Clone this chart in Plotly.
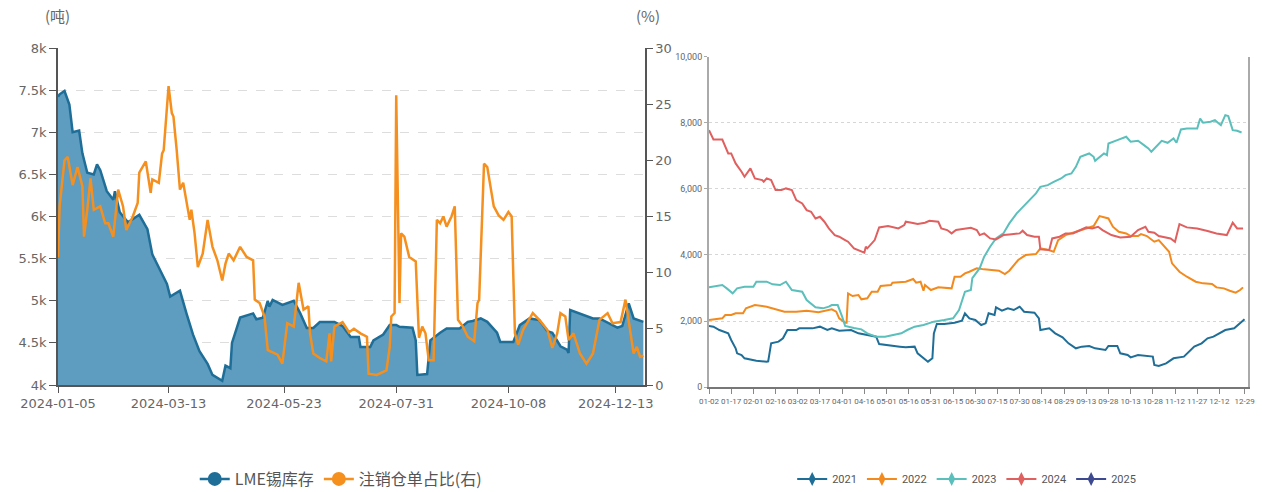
import pandas as pd
import plotly.graph_objects as go

# ---------------- Left chart data (2024) ----------------
lme_base = "2024-01-05"
lme_day = [0, 1, 4, 7, 9, 13, 15, 18, 22, 24, 26, 30, 34, 35, 38, 43, 50, 55, 58, 63, 67, 69, 75, 79, 83, 87, 92, 95,
           101, 103, 106, 107, 112, 120, 122, 126, 129, 130, 132, 138, 145, 149, 153, 157, 161, 170, 175, 180, 185, 186,
           192, 194, 200, 204, 208, 210, 218, 220, 221, 227, 229, 235, 239, 247, 252, 255, 260, 264, 270, 272, 280, 284,
           290, 296, 301, 304, 309, 313, 314, 315, 319, 323, 329, 333, 338, 344, 347, 351, 354, 360]
lme_stock = [7420, 7450, 7490, 7330, 7000, 7020, 6750, 6520, 6500, 6620, 6550, 6300, 6200, 6300, 6050, 5930, 6020, 5850,
             5550, 5350, 5200, 5050, 5120, 4850, 4600, 4400, 4250, 4120, 4050, 4230, 4200, 4500, 4800, 4850, 4780, 4800,
             5000, 4930, 5010, 4950, 5000, 4850, 4677, 4677, 4748, 4748, 4700, 4570, 4570, 4451, 4451, 4530, 4600, 4712,
             4712, 4690, 4680, 4530, 4119, 4130, 4530, 4620, 4670, 4670, 4750, 4760, 4790, 4750, 4620, 4510, 4510, 4710,
             4790, 4770, 4640, 4620, 4460, 4420, 4380, 4890, 4860, 4830, 4790, 4790, 4740, 4680, 4700, 4970, 4790, 4750]

ratio_day = [0, 1, 4, 6, 9, 12, 15, 16, 18, 20, 22, 26, 29, 31, 34, 37, 40, 42, 46, 49, 50, 54, 57, 58, 62, 64, 65, 68,
             70, 71, 73, 75, 77, 79, 81, 82, 84, 86, 89, 92, 95, 98, 101, 103, 105, 108, 112, 116, 120, 121, 124, 127,
             129, 135, 138, 141, 145, 148, 151, 154, 155, 157, 161, 165, 167, 168, 170, 175, 179, 182, 186, 190, 191,
             196, 200, 202, 204, 205, 207, 208, 210, 211, 213, 216, 220, 222, 224, 226, 228, 231, 233, 235, 237, 239,
             242, 244, 246, 249, 252, 256, 258, 259, 262, 264, 268, 271, 274, 277, 279, 281, 283, 286, 292, 296, 301,
             304, 307, 309, 312, 314, 317, 321, 325, 329, 333, 338, 341, 346, 349, 351, 354, 356, 358, 360]
ratio_pct = [11.4, 15.9, 20.0, 20.3, 17.8, 19.4, 17.7, 13.2, 15.6, 18.4, 15.6, 15.9, 14.4, 14.4, 13.2, 17.4, 15.9, 13.8,
             15.0, 16.2, 18.9, 19.9, 17.1, 18.3, 18.0, 20.6, 20.9, 26.6, 24.2, 23.9, 20.9, 17.4, 18.0, 16.5, 14.7, 15.6,
             13.5, 10.5, 11.7, 14.7, 12.3, 11.1, 9.3, 10.8, 11.7, 11.1, 12.3, 11.4, 11.1, 7.6, 7.3, 6.1, 3.1, 2.7, 1.9,
             5.5, 5.2, 9.1, 6.7, 7.0, 4.6, 2.8, 2.4, 2.1, 4.6, 2.1, 5.2, 5.6, 4.7, 5.0, 4.6, 4.3, 1.0, 0.9, 1.2, 1.3,
             3.4, 6.1, 6.4, 25.8, 7.3, 13.5, 13.2, 11.4, 11.0, 4.2, 5.2, 4.6, 2.2, 2.2, 14.7, 14.4, 15.0, 14.1, 15.0,
             15.9, 5.8, 5.2, 4.3, 3.9, 7.3, 7.6, 19.7, 19.4, 15.9, 15.1, 14.7, 15.4, 15.0, 4.6, 3.6, 4.9, 6.4, 5.8, 4.9,
             3.3, 4.6, 6.4, 6.1, 4.0, 4.6, 2.8, 1.9, 2.8, 5.8, 6.4, 5.5, 5.6, 7.6, 5.8, 2.8, 3.4, 2.5, 2.6]

left_xticks = ["2024-01-05", "2024-03-13", "2024-05-23", "2024-07-31", "2024-10-08", "2024-12-13"]
left_yticks = [4000, 4500, 5000, 5500, 6000, 6500, 7000, 7500, 8000]
left_ytext = ["4k", "4.5k", "5k", "5.5k", "6k", "6.5k", "7k", "7.5k", "8k"]
right_yticks = [0, 5, 10, 15, 20, 25, 30]

# ---------------- Right chart data (seasonal, by day from 01-02) ----------------
season_base = "2024-01-02"
d2021 = [0, 3, 7, 13, 15, 18, 19, 22, 24, 32, 39, 40, 42, 47, 50, 53, 59, 61, 70, 75, 80, 83, 88, 92, 96, 101, 107, 113,
         115, 122, 129, 133, 139, 141, 144, 148, 151, 152, 154, 159, 166, 171, 173, 176, 180, 184, 187, 189, 193, 194,
         198, 202, 206, 210, 213, 220, 223, 224, 230, 234, 239, 243, 248, 252, 257, 261, 268, 270, 276, 278, 283, 285,
         290, 296, 300, 301, 304, 309, 314, 321, 328, 333, 337, 341, 345, 349, 355, 359, 362]
v2021 = [1850, 1833, 1732, 1631, 1430, 1178, 1027, 977, 876, 806, 775, 785, 1329, 1380, 1480, 1732, 1732, 1782, 1782,
         1833, 1732, 1782, 1712, 1732, 1732, 1631, 1581, 1531, 1309, 1279, 1229, 1209, 1229, 1027, 926, 775, 876, 1631,
         1913, 1913, 1954, 2014, 2236, 2084, 2034, 1883, 1933, 2236, 2185, 2417, 2316, 2387, 2336, 2437, 2286, 2256,
         2085, 1732, 1782, 1631, 1511, 1329, 1178, 1229, 1249, 1178, 1128, 1250, 1249, 1027, 977, 906, 977, 947, 927,
         675, 644, 725, 876, 926, 1229, 1329, 1480, 1531, 1631, 1732, 1782, 1954, 2054]

d2022 = [0, 9, 11, 15, 18, 23, 25, 31, 39, 46, 51, 59, 66, 74, 78, 83, 86, 88, 92, 93, 94, 97, 101, 103, 107, 110, 114,
         116, 123, 124, 133, 138, 140, 143, 145, 146, 150, 155, 164, 166, 170, 173, 176, 181, 186, 192, 196, 200, 203,
         209, 214, 221, 224, 228, 233, 236, 241, 248, 255, 260, 264, 267, 270, 273, 277, 282, 285, 290, 292, 296, 301,
         304, 308, 311, 313, 318, 323, 329, 334, 340, 343, 348, 352, 356, 359, 361]
v2022 = [2034, 2085, 2185, 2185, 2236, 2236, 2387, 2487, 2437, 2356, 2286, 2286, 2316, 2266, 2316, 2356, 2286, 2085,
         1954, 1954, 2840, 2760, 2790, 2659, 2690, 2890, 2890, 3061, 3092, 3162, 3192, 3273, 3162, 3192, 2920, 3092,
         2940, 3021, 2991, 3343, 3343, 3444, 3494, 3595, 3565, 3545, 3525, 3424, 3525, 3847, 3998, 4028, 4199, 4169,
         4098, 4451, 4602, 4703, 4803, 4874, 5176, 5136, 5105, 4854, 4703, 4652, 4572, 4572, 4632, 4572, 4401, 4451,
         4250, 4098, 3746, 3494, 3343, 3192, 3142, 3122, 3021, 2991, 2920, 2860, 2940, 3021]

d2023 = [0, 9, 12, 16, 19, 24, 30, 32, 39, 43, 48, 52, 56, 63, 66, 72, 77, 81, 83, 87, 90, 92, 98, 103, 107, 113, 119,
         124, 130, 134, 139, 145, 152, 159, 165, 169, 173, 177, 178, 183, 186, 190, 194, 199, 203, 208, 213, 217, 221,
         224, 229, 233, 238, 241, 245, 248, 251, 257, 260, 261, 264, 267, 269, 270, 276, 282, 285, 290, 294, 297, 299,
         303, 306, 310, 314, 316, 319, 323, 330, 332, 334, 339, 342, 346, 349, 351, 354, 357, 360]
v2023 = [3021, 3092, 2990, 2840, 2991, 3041, 3041, 3192, 3192, 3112, 3092, 3192, 2940, 2890, 2638, 2417, 2387, 2437,
         2487, 2487, 2135, 1853, 1792, 1752, 1631, 1531, 1531, 1581, 1631, 1732, 1833, 1883, 1984, 2034, 2085, 2336,
         2890, 2940, 3300, 3600, 3947, 4250, 4501, 4652, 4954, 5257, 5478, 5659, 5861, 6062, 6112, 6213, 6314, 6415,
         6465, 6666, 6968, 7069, 6968, 6848, 6968, 7069, 7019, 7371, 7472, 7573, 7422, 7452, 7321, 7220, 7119, 7321,
         7452, 7392, 7522, 7392, 7794, 7824, 7824, 8126, 7996, 8026, 8076, 7925, 8227, 8197, 7774, 7754, 7703]

d2024 = [0, 3, 9, 10, 13, 15, 18, 22, 24, 28, 31, 36, 37, 39, 42, 45, 49, 52, 56, 59, 63, 66, 69, 72, 75, 78, 81, 85,
         88, 92, 94, 98, 102, 105, 106, 107, 112, 114, 115, 121, 128, 132, 133, 137, 141, 146, 149, 155, 157, 161, 164,
         167, 173, 177, 181, 183, 186, 190, 194, 199, 203, 210, 212, 215, 220, 223, 224, 230, 232, 237, 241, 246, 250,
         255, 259, 263, 266, 272, 278, 285, 290, 295, 297, 301, 304, 312, 315, 318, 323, 330, 337, 343, 350, 354, 357,
         361]
v2024 = [7774, 7490, 7490, 7370, 7069, 7069, 6767, 6515, 6364, 6616, 6314, 6263, 6213, 6314, 6263, 5961, 5961, 6012,
         5961, 5659, 5559, 5357, 5307, 5105, 5156, 5005, 4803, 4602, 4552, 4451, 4401, 4199, 4129, 4068, 4250, 4200,
         4451, 4753, 4834, 4874, 4803, 4904, 5005, 4975, 4934, 4975, 5035, 5005, 4803, 4753, 4652, 4753, 4803, 4823,
         4753, 4602, 4652, 4501, 4471, 4602, 4622, 4652, 4733, 4602, 4552, 4552, 4169, 4149, 4501, 4552, 4652, 4652,
         4733, 4834, 4803, 4854, 4753, 4602, 4531, 4552, 4753, 4854, 4703, 4673, 4572, 4501, 4401, 4934, 4834, 4803,
         4723, 4652, 4602, 4975, 4803, 4803]

season_xticks = ["01-02", "01-17", "02-01", "02-16", "03-02", "03-17", "04-01", "04-16", "05-01", "05-16", "05-31",
                 "06-15", "06-30", "07-15", "07-30", "08-14", "08-29", "09-13", "09-28", "10-13", "10-28", "11-12",
                 "11-27", "12-12", "12-29"]
season_yticks = [0, 2000, 4000, 6000, 8000, 10000]
season_years = ["2021", "2022", "2023", "2024", "2025"]
season_colors = ["#1f6e98", "#f28a1e", "#5bbfbc", "#e0605f", "#3d4a8f"]


def to_dates(base, days):
    return pd.Timestamp(base) + pd.to_timedelta(days, unit="D")


W, H = 1262, 492
GRAY = "#666666"
AXIS = "#555555"
LFONT = dict(family="DejaVu Sans, Verdana, sans-serif", size=13, color=GRAY)
SMALL = "Roboto, Liberation Sans, sans-serif"
RFONT = dict(family=SMALL, size=8, color=GRAY)

fig = go.Figure()

# Left chart
fig.add_trace(go.Scatter(
    x=to_dates(lme_base, lme_day), y=lme_stock, mode="lines", name="LME锡库存",
    line=dict(color="#1f6e98", width=2.5), fill="tozeroy", fillcolor="#5e9cc0",
    xaxis="x", yaxis="y", showlegend=False, hoverinfo="skip"))
fig.add_trace(go.Scatter(
    x=to_dates(lme_base, ratio_day), y=ratio_pct, mode="lines", name="注销仓单占比(右)",
    line=dict(color="#f5901f", width=2.5), xaxis="x", yaxis="y2", showlegend=False, hoverinfo="skip"))
for nm, col in [("LME锡库存", "#1f6e98"), ("注销仓单占比(右)", "#f5901f")]:
    fig.add_trace(go.Scatter(x=[None], y=[None], mode="lines+markers", name=nm,
                             line=dict(color=col, width=2.5), marker=dict(color=col, size=14, symbol="circle"),
                             xaxis="x", yaxis="y", legend="legend"))

# Right chart
season_days = [d2021, d2022, d2023, d2024]
season_vals = [v2021, v2022, v2023, v2024]
for yr, dd, vv, col in zip(season_years[:4], season_days, season_vals, season_colors[:4]):
    fig.add_trace(go.Scatter(x=to_dates(season_base, dd), y=vv, mode="lines", name=yr,
                             line=dict(color=col, width=2), xaxis="x3", yaxis="y3",
                             showlegend=False, hoverinfo="skip"))
for yr, col in zip(season_years, season_colors):
    fig.add_trace(go.Scatter(x=[None], y=[None], mode="lines+markers", name=yr,
                             line=dict(color=col, width=2), marker=dict(color=col, size=10, symbol="diamond-tall"),
                             xaxis="x3", yaxis="y3", legend="legend2"))

fig.update_layout(
    width=W, height=H, margin=dict(l=0, r=0, t=0, b=0, autoexpand=False),
    paper_bgcolor="white", plot_bgcolor="white",
    xaxis=dict(domain=[58 / W, 645 / W], anchor="y", type="date", automargin=False,
               range=["2024-01-05", "2024-12-31"],
               tickvals=left_xticks, ticktext=left_xticks, tickangle=0,
               showline=True, linecolor=AXIS, linewidth=1.5, ticks="outside", ticklen=6,
               tickcolor=AXIS, showgrid=False, tickfont=LFONT),
    yaxis=dict(domain=[1 - 385 / H, 1 - 48 / H], anchor="x", range=[4000, 8000], automargin=False,
               tickvals=left_yticks, ticktext=left_ytext,
               showline=True, linecolor=AXIS, linewidth=1.5, ticks="outside", ticklen=7, tickcolor=AXIS,
               showgrid=True, gridcolor="#dddddd", griddash="dash", gridwidth=1, zeroline=False,
               tickfont=LFONT),
    yaxis2=dict(overlaying="y", side="right", anchor="x", range=[0, 30], tickvals=right_yticks, automargin=False,
                showline=True, linecolor=AXIS, linewidth=1.5, ticks="outside", ticklen=6, tickcolor=AXIS,
                showgrid=False, zeroline=False, tickfont=LFONT),
    xaxis3=dict(domain=[709 / W, 1247.5 / W], anchor="y3", type="date", automargin=False,
                range=["2024-01-02", "2024-12-31"],
                tickvals=["2024-" + t for t in season_xticks], ticktext=season_xticks, tickangle=0,
                showline=True, linecolor="#777777", linewidth=1.5, ticks="outside", ticklen=5,
                tickcolor="#888888", showgrid=False, tickfont=RFONT),
    yaxis3=dict(domain=[1 - 387.3 / H, 1 - 56.5 / H], anchor="x3", range=[0, 10000], automargin=False,
                tickvals=season_yticks, tickformat=",", showline=True, mirror=True,
                linecolor="#aaaaaa", linewidth=2, ticks="outside", ticklen=3, tickcolor="#aaaaaa",
                showgrid=True, gridcolor="#d6d6d6", griddash="dot", zeroline=False,
                tickfont=dict(family=SMALL, size=9, color=GRAY)),
    legend=dict(orientation="h", x=0.27, xanchor="center", y=1 - 479 / H, yanchor="middle",
                font=dict(family="Noto Sans CJK SC, sans-serif", size=16, color="#555555"),
                bgcolor="rgba(0,0,0,0)", itemclick=False),
    legend2=dict(orientation="h", x=0.766, xanchor="center", y=1 - 479 / H, yanchor="middle",
                 font=dict(family=SMALL, size=11, color="#555555"),
                 bgcolor="rgba(0,0,0,0)", itemclick=False, itemwidth=30),
    annotations=[
        dict(text="(吨)", x=57 / W, y=1 - 16 / H, xref="paper", yref="paper", showarrow=False,
             yanchor="middle", xanchor="center",
             font=dict(family="Noto Sans CJK SC, sans-serif", size=15, color=GRAY)),
        dict(text="(%)", x=648 / W, y=1 - 16 / H, xref="paper", yref="paper", showarrow=False,
             yanchor="middle", xanchor="center",
             font=dict(family="Noto Sans CJK SC, sans-serif", size=15, color=GRAY)),
    ],
)

fig.write_html("out.html", config={"displayModeBar": False},
               post_script="document.body.style.margin='0';document.body.style.overflow='hidden';")
